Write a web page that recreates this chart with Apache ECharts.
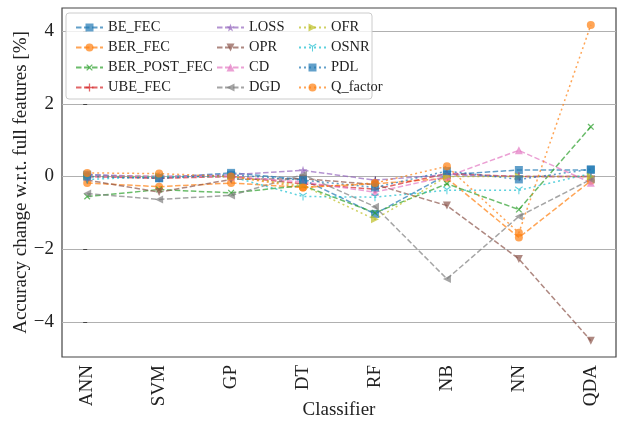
<!DOCTYPE html>
<html>
<head>
<meta charset="utf-8">
<script src="https://cdn.jsdelivr.net/npm/echarts@6/dist/echarts.min.js"></script>
<style>
  html, body { margin: 0; padding: 0; background: #fff; }
  #chart { width: 625px; height: 421px; }
</style>
</head>
<body>
<div id="chart"></div>
<script>
let classifiers = ['ANN', 'SVM', 'GP', 'DT', 'RF', 'NB', 'NN', 'QDA'];
let yTicks = [-4, -2, 0, 2, 4];

let BE_FEC       = [0.05, -0.04, 0.10, -0.08, -1.03, 0.05, 0.18, 0.18];
let BER_FEC      = [-0.18, -0.28, -0.18, -0.30, -0.20, -0.05, -1.68, -0.12];
let BER_POST_FEC = [-0.55, -0.36, -0.45, -0.25, -1.00, -0.20, -0.91, 1.37];
let UBE_FEC      = [0.00, -0.05, 0.00, -0.20, -0.35, 0.08, 0.00, 0.00];
let LOSS         = [0.05, 0.00, 0.05, 0.17, -0.10, 0.05, 0.00, 0.00];
let OPR          = [-0.10, -0.43, -0.08, -0.06, -0.22, -0.80, -2.27, -4.52];
let CD           = [0.00, 0.00, 0.00, -0.15, -0.43, 0.00, 0.72, -0.17];
let DGD          = [-0.47, -0.63, -0.52, 0.05, -0.83, -2.82, -1.10, -0.08];
let OFR          = [0.00, 0.00, 0.00, -0.25, -1.18, 0.00, 0.00, 0.00];
let OSNR         = [-0.08, 0.00, 0.00, -0.55, -0.57, -0.38, -0.38, 0.08];
let PDL          = [0.00, -0.05, 0.05, -0.10, -0.30, 0.15, -0.08, 0.20];
let Q_factor     = [0.10, 0.08, 0.00, -0.30, -0.18, 0.28, -1.55, 4.17];

// marker shapes (matplotlib-ish)
let starPath = 'path://M5,0L6.18,3.38L9.76,3.45L6.9,5.62L7.94,9.05L5,7L2.06,9.05L3.1,5.62L0.24,3.45L3.82,3.38Z';
let plusPath = 'path://M4.2,0H5.8V4.2H10V5.8H5.8V10H4.2V5.8H0V4.2H4.2Z';
let triDownPath = 'path://M4.4,10L5.6,10L5.6,5.35L9.63,3.02L9.03,1.98L5,4.31L0.97,1.98L0.37,3.02L4.4,5.35Z';

let dashed = [5.5, 2.5];
let dotted = [2, 3];

let seriesDefs = [
    {name: 'BE_FEC', data: BE_FEC, color: '#1f77b4', dash: dashed, symbol: 'rect', size: 8, rot: 0},
    {name: 'BER_FEC', data: BER_FEC, color: '#ff7f0e', dash: dashed, symbol: 'circle', size: 8, rot: 0},
    {name: 'BER_POST_FEC', data: BER_POST_FEC, color: '#2ca02c', dash: dashed, symbol: plusPath, size: 8, rot: 45},
    {name: 'UBE_FEC', data: UBE_FEC, color: '#d62728', dash: dashed, symbol: plusPath, size: 8, rot: 0},
    {name: 'LOSS', data: LOSS, color: '#9467bd', dash: dashed, symbol: starPath, size: 9, rot: 0},
    {name: 'OPR', data: OPR, color: '#8c564b', dash: dashed, symbol: 'triangle', size: 8, rot: 180},
    {name: 'CD', data: CD, color: '#e377c2', dash: dashed, symbol: 'triangle', size: 8, rot: 0},
    {name: 'DGD', data: DGD, color: '#7f7f7f', dash: dashed, symbol: 'triangle', size: 8, rot: 90},
    {name: 'OFR', data: OFR, color: '#bcbd22', dash: dotted, symbol: 'triangle', size: 8, rot: -90},
    {name: 'OSNR', data: OSNR, color: '#17becf', dash: dotted, symbol: triDownPath, size: 8, rot: 0},
    {name: 'PDL', data: PDL, color: '#1f77b4', dash: dotted, symbol: 'rect', size: 8, rot: 0},
    {name: 'Q_factor', data: Q_factor, color: '#ff7f0e', dash: dotted, symbol: 'circle', size: 8, rot: 0}
];

let series = seriesDefs.map(function (d) {
    return {
        name: d.name,
        type: 'line',
        data: d.data.map(function (v, i) { return [i, v]; }),
        symbol: d.symbol,
        symbolSize: d.size,
        symbolRotate: d.rot,
        showSymbol: true,
        animation: false,
        itemStyle: {color: d.color, opacity: 0.7},
        lineStyle: {color: d.color, width: 1.5, type: d.dash, opacity: 0.7}
    };
});

let font = 'Liberation Serif';
let legendNames = seriesDefs.map(function (d) { return d.name; });
function makeLegend(names, left) {
    return {
        orient: 'vertical',
        left: left,
        top: 15,
        data: names,
        itemWidth: 27,
        itemHeight: 10,
        itemGap: 5,
        textStyle: {fontFamily: font, fontSize: 14.5, color: '#222'},
        selectedMode: false
    };
}

let chart = echarts.init(document.getElementById('chart'));
chart.setOption({
    backgroundColor: '#fff',
    animation: false,
    textStyle: {fontFamily: font},
    grid: {
        left: 62, right: 9, top: 8, bottom: 64,
        containLabel: false,
        outerBoundsMode: 'none',
        show: true,
        borderColor: '#444',
        borderWidth: 1.2,
        backgroundColor: 'transparent'
    },
    graphic: [{
        type: 'rect',
        z: 3,
        shape: {x: 66, y: 13, width: 306, height: 86, r: 3},
        style: {fill: 'rgba(255,255,255,0.8)', stroke: '#cccccc', lineWidth: 1}
    }],
    legend: [
        makeLegend(legendNames.slice(0, 4), 70),
        makeLegend(legendNames.slice(4, 8), 211),
        makeLegend(legendNames.slice(8, 12), 293)
    ],
    xAxis: {
        type: 'value',
        min: -0.35,
        max: 7.35,
        name: 'Classifier',
        nameLocation: 'middle',
        nameGap: 44,
        nameMoveOverlap: false,
        nameTextStyle: {fontFamily: font, fontSize: 19, color: '#222'},
        axisLine: {show: false},
        axisTick: {show: true, length: 4, customValues: [0, 1, 2, 3, 4, 5, 6, 7], lineStyle: {color: '#444'}},
        axisLabel: {
            customValues: [0, 1, 2, 3, 4, 5, 6, 7],
            rotate: 90,
            margin: 8,
            fontFamily: font,
            fontSize: 19,
            color: '#222',
            formatter: function (v) { return classifiers[Math.round(v)]; }
        },
        splitLine: {show: false}
    },
    yAxis: {
        type: 'value',
        min: -4.97,
        max: 4.64,
        name: 'Accuracy change w.r.t. full features [%]',
        nameLocation: 'middle',
        nameGap: 31,
        nameMoveOverlap: false,
        nameTextStyle: {fontFamily: font, fontSize: 19, color: '#222'},
        axisLine: {show: false},
        axisTick: {show: true, length: 4, customValues: yTicks, lineStyle: {color: '#444'}},
        axisLabel: {
            customValues: yTicks,
            margin: 8,
            fontFamily: font,
            fontSize: 19,
            color: '#222',
            formatter: function (v) { return v < 0 ? '\u2212' + (-v) : String(v); }
        },
        splitLine: {show: true, lineStyle: {color: '#b0b0b0', width: 1}}
    },
    series: series
});
</script>
</body>
</html>
